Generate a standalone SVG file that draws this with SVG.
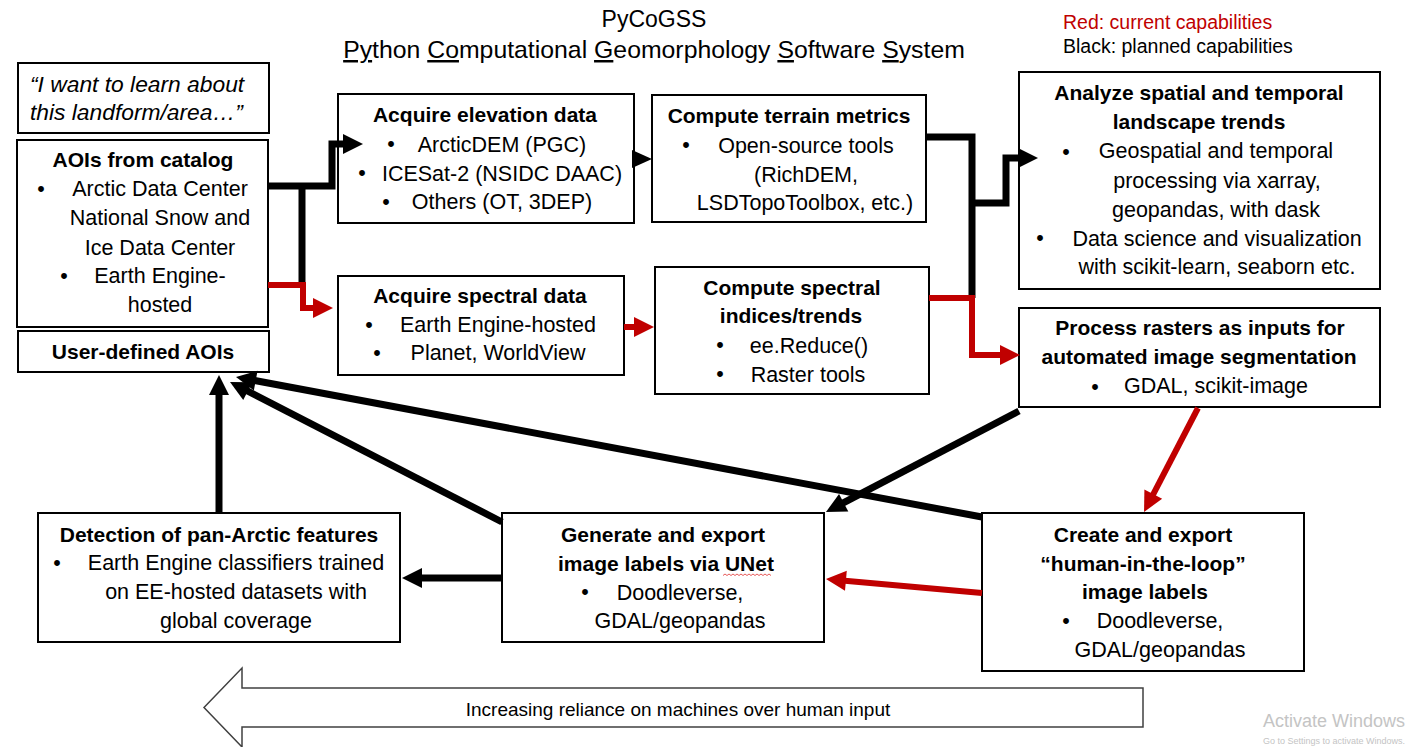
<svg xmlns="http://www.w3.org/2000/svg" width="1412" height="747" viewBox="0 0 1412 747">
<style>
.bg{fill:#fff}
.box{fill:#fff;stroke:#000;stroke-width:2}
text{font-family:"Liberation Sans",Arial,sans-serif;font-size:21.5px;fill:#000}
.b{font-weight:bold;font-size:21px}
.c{text-anchor:middle}
.it{font-style:italic}
.conn{fill:none;stroke:#000;stroke-width:7}
.red{fill:none;stroke:#C00000;stroke-width:6}
.u{text-decoration:underline}
</style>
<defs>
<marker id="ah" markerUnits="userSpaceOnUse" markerWidth="20" markerHeight="20" refX="1" refY="10" orient="auto" overflow="visible">
<path d="M0,0 L20,10 L0,20 z" fill="#000"/>
</marker>
<marker id="ahr" markerUnits="userSpaceOnUse" markerWidth="20" markerHeight="20" refX="1" refY="10" orient="auto" overflow="visible">
<path d="M0,0 L20,10 L0,20 z" fill="#C00000"/>
</marker>
</defs>
<rect class="bg" x="0" y="0" width="1412" height="747"/>

<g id="title">
<text class="c" x="654" y="27" style="font-size:23px">PyCoGSS</text>
<text class="c" x="654" y="58" style="font-size:24.8px"><tspan class="u">Py</tspan>thon <tspan class="u">Co</tspan>mputational <tspan class="u">G</tspan>eomorphology <tspan class="u">S</tspan>oftware <tspan class="u">S</tspan>ystem</text>
</g>
<g id="legend">
<text x="1063" y="29" style="font-size:19.5px;fill:#C00000">Red: current capabilities</text>
<text x="1063" y="53" style="font-size:19.5px">Black: planned capabilities</text>
</g>

<g id="quote">
<rect class="box" x="18" y="63" width="251" height="70"/>
<text class="it" x="30" y="92" style="font-size:22.8px">“I want to learn about</text>
<text class="it" x="30" y="120" style="font-size:22.8px">this landform/area…”</text>
</g>

<g id="aois-catalog">
<rect class="box" x="17" y="140" width="251" height="187"/>
<text class="b c" x="143" y="167">AOIs from catalog</text>
<text class="c" x="41" y="196">•</text>
<text class="c" x="160" y="196">Arctic Data Center</text>
<text class="c" x="160" y="225">National Snow and</text>
<text class="c" x="160" y="255">Ice Data Center</text>
<text class="c" x="64" y="283">•</text>
<text class="c" x="160" y="283">Earth Engine-</text>
<text class="c" x="160" y="312">hosted</text>
</g>

<g id="aois-user">
<rect class="box" x="18" y="331" width="251" height="41"/>
<text class="b c" x="143" y="359">User-defined AOIs</text>
</g>

<g id="acquire-elevation">
<rect class="box" x="338" y="94" width="296" height="129"/>
<text class="b c" x="485" y="122">Acquire elevation data</text>
<text class="c" x="391" y="151">•</text>
<text class="c" x="502" y="152">ArcticDEM (PGC)</text>
<text class="c" x="362" y="180">•</text>
<text class="c" x="502" y="181">ICESat-2 (NSIDC DAAC)</text>
<text class="c" x="386" y="209">•</text>
<text class="c" x="502" y="209">Others (OT, 3DEP)</text>
</g>

<g id="acquire-spectral">
<rect class="box" x="338" y="276" width="286" height="99"/>
<text class="b c" x="480" y="303">Acquire spectral data</text>
<text class="c" x="369" y="332">•</text>
<text class="c" x="498" y="332">Earth Engine-hosted</text>
<text class="c" x="377" y="360">•</text>
<text class="c" x="498" y="360">Planet, WorldView</text>
</g>

<g id="terrain-metrics">
<rect class="box" x="652" y="95" width="274" height="127"/>
<text class="b c" x="789" y="123">Compute terrain metrics</text>
<text class="c" x="686" y="152">•</text>
<text class="c" x="806" y="153">Open-source tools</text>
<text class="c" x="806" y="182">(RichDEM,</text>
<text class="c" x="805" y="210">LSDTopoToolbox, etc.)</text>
</g>

<g id="spectral-indices">
<rect class="box" x="655" y="267" width="274" height="127"/>
<text class="b c" x="792" y="295">Compute spectral</text>
<text class="b c" x="791" y="323">indices/trends</text>
<text class="c" x="720" y="352">•</text>
<text class="c" x="809" y="353">ee.Reduce()</text>
<text class="c" x="720" y="381">•</text>
<text class="c" x="808" y="382">Raster tools</text>
</g>

<g id="analyze-trends">
<rect class="box" x="1019" y="72" width="361" height="217"/>
<text class="b c" x="1199" y="100">Analyze spatial and temporal</text>
<text class="b c" x="1199" y="129">landscape trends</text>
<text class="c" x="1066" y="159">•</text>
<text class="c" x="1216" y="158">Geospatial and temporal</text>
<text class="c" x="1217" y="188">processing via xarray,</text>
<text class="c" x="1216" y="217">geopandas, with dask</text>
<text class="c" x="1040" y="245">•</text>
<text class="c" x="1217" y="246">Data science and visualization</text>
<text class="c" x="1217" y="274">with scikit-learn, seaborn etc.</text>
</g>

<g id="process-rasters">
<rect class="box" x="1019" y="308" width="361" height="99"/>
<text class="b c" x="1200" y="335">Process rasters as inputs for</text>
<text class="b c" x="1199" y="364">automated image segmentation</text>
<text class="c" x="1095" y="394">•</text>
<text class="c" x="1216" y="393">GDAL, scikit-image</text>
</g>

<g id="detection">
<rect class="box" x="38" y="513" width="362" height="129"/>
<text class="b c" x="219" y="542">Detection of pan-Arctic features</text>
<text class="c" x="57" y="570">•</text>
<text class="c" x="236" y="570">Earth Engine classifiers trained</text>
<text class="c" x="236" y="599">on EE-hosted datasets with</text>
<text class="c" x="236" y="628">global coverage</text>
</g>

<g id="generate-labels">
<rect class="box" x="502" y="513" width="322" height="129"/>
<text class="b c" x="663" y="542">Generate and export</text>
<text class="b c" x="666" y="571">image labels via UNet</text>
<path d="M723,575.5 l2,-1.5 l2,1.5 l2,-1.5 l2,1.5 l2,-1.5 l2,1.5 l2,-1.5 l2,1.5 l2,-1.5 l2,1.5 l2,-1.5 l2,1.5 l2,-1.5 l2,1.5 l2,-1.5 l2,1.5 l2,-1.5 l2,1.5 l2,-1.5 l2,1.5 l2,-1.5 l2,1.5 l2,-1.5 l2,1.5" fill="none" stroke="#e03030" stroke-width="0.8"/>
<text class="c" x="585" y="599">•</text>
<text class="c" x="680" y="600">Doodleverse,</text>
<text class="c" x="680" y="628">GDAL/geopandas</text>
</g>

<g id="create-labels">
<rect class="box" x="982" y="513" width="322" height="158"/>
<text class="b c" x="1143" y="542">Create and export</text>
<text class="b c" x="1143" y="571">“human-in-the-loop”</text>
<text class="b c" x="1145" y="599">image labels</text>
<text class="c" x="1066" y="628">•</text>
<text class="c" x="1160" y="628">Doodleverse,</text>
<text class="c" x="1160" y="657">GDAL/geopandas</text>
</g>

<g id="connectors">
<path class="conn" d="M268,186 H332 V144 H344" marker-end="url(#ah)"/>
<path class="conn" d="M302,186 V285"/>
<path class="red" d="M268,285 H303 V308 H314" marker-end="url(#ahr)"/>
<polygon points="632,150 652,159 632,168" fill="#000"/>
<path class="red" d="M624,327 H635" marker-end="url(#ahr)"/>
<path class="conn" d="M926,137 H972 V298"/>
<path class="conn" d="M972,203 H1006 V158 H1019" marker-end="url(#ah)"/>
<path class="red" d="M929,298 H972 V355 H1001" marker-end="url(#ahr)"/>
<path class="conn" d="M1019,411 L842.8,503.2" marker-end="url(#ah)"/>
<path class="red" d="M1198,408 L1152.8,495.1" marker-end="url(#ahr)"/>
<path class="red" d="M982,593 L844.9,580.7" marker-end="url(#ahr)"/>
<path class="conn" d="M982,517 L254.7,380.5" marker-end="url(#ah)"/>
<path class="conn" d="M502,522 L246.9,390.7" marker-end="url(#ah)"/>
<path class="conn" d="M219,512 V394" marker-end="url(#ah)"/>
<path class="conn" d="M502,578 H421" marker-end="url(#ah)"/>
</g>

<g id="machine-arrow">
<polygon points="204,707.5 242,668 242,688 1143,688 1143,727 242,727 242,747" fill="#fff" stroke="#404040" stroke-width="1.5"/>
<text class="c" x="678" y="716" style="font-size:19px">Increasing reliance on machines over human input</text>
</g>

<g id="watermark">
<text x="1263" y="727" style="font-size:18px;fill:#c4c4c4">Activate Windows</text>
<text x="1263" y="744" style="font-size:9px;fill:#c4c4c4">Go to Settings to activate Windows.</text>
</g>
</svg>
